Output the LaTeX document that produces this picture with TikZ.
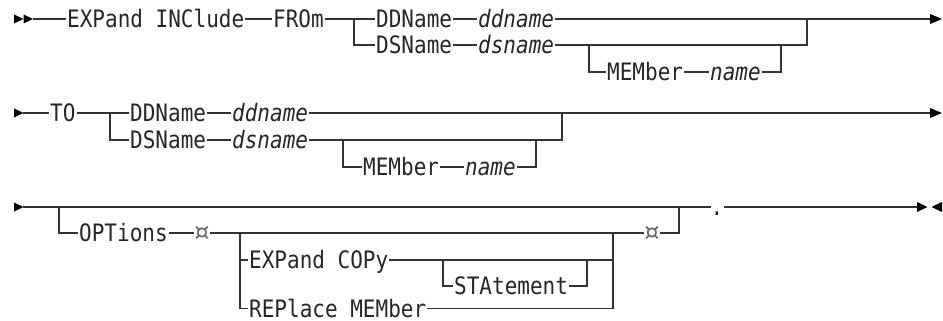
\documentclass[tikz,border=0pt]{standalone}
\usepackage{fontspec}
\setmainfont{DejaVu Sans Mono}
\newfontfamily\railfont[FakeStretch=0.875]{DejaVu Sans Mono}
\newfontfamily\symfont{DejaVu Sans}
\newcommand{\kwfont}{\railfont\fontsize{24}{28}\selectfont}
\newcommand{\curfont}{\symfont\fontsize{24}{28}\selectfont}
\begin{document}
\begin{tikzpicture}[x=1pt,y=-1pt,
  rail/.style={draw=black!80, line width=1.3pt},
  kw/.style={anchor=west, inner xsep=1pt, inner ysep=0pt, text height=17.5pt,
             text depth=0pt, text=black!85, font=\kwfont},
  var/.style={kw, font=\kwfont\itshape},
  cur/.style={inner xsep=0pt, inner ysep=0pt, text=black!60, font=\curfont},
  tipfill/.style={fill=black}]
\useasboundingbox (0,0) rectangle (943,321);

% ---------- first line: EXPand INClude FROm ----------
\coordinate (s1) at (33,19);
\node[kw]  (expinc) at (66,19)  {EXPand INClude};
\node[kw]  (from)   at (272,19) {FROm};
\coordinate (b1)  at (354,19);
\coordinate (b1d) at (354,45);
\node[kw]  (dd1)  at (375,19) {DDName};
\node[var] (dd1v) at (477,19) {ddname};
\node[kw]  (ds1)  at (375,45) {DSName};
\node[var] (ds1v) at (477,45) {dsname};
\coordinate (m1)  at (589,45);
\coordinate (m1d) at (589,72);
\node[kw]  (mem1)  at (606,72) {MEMber};
\node[var] (name1) at (709,72) {name};
\coordinate (k1)  at (781,72);
\coordinate (k1u) at (781,45);
\coordinate (j1)  at (807,19);
\coordinate (j1d) at (807,45);
\coordinate (e1)  at (930,19);

\fill[tipfill] (14,14.5) -- (23.5,19) -- (14,23.5) -- cycle;
\fill[tipfill] (23.5,14.5) -- (33,19) -- (23.5,23.5) -- cycle;
\draw[rail] (s1) -- (expinc.west);
\draw[rail] (expinc.east) -- (from.west);
\draw[rail] (from.east) -- (b1) -- (dd1.west);
\draw[rail] (b1) -- (b1d) -- (ds1.west);
\draw[rail] (dd1.east) -- (dd1v.west);
\draw[rail] (ds1.east) -- (ds1v.west);
\draw[rail] (dd1v.east) -- (e1);
\draw[rail] (ds1v.east) -- (j1d) -- (j1);
\draw[rail] (m1) -- (m1d) -- (mem1.west);
\draw[rail] (mem1.east) -- (name1.west);
\draw[rail] (name1.east) -- (k1) -- (k1u);
\fill[tipfill] (930,14) -- (942,19) -- (930,24) -- cycle;

% ---------- second line: TO ----------
\coordinate (s2) at (23,113);
\node[kw]  (to)   at (49,113) {TO};
\coordinate (b2)  at (110,113);
\coordinate (b2d) at (110,140);
\node[kw]  (dd2)  at (129,113) {DDName};
\node[var] (dd2v) at (231,113) {ddname};
\node[kw]  (ds2)  at (129,140) {DSName};
\node[var] (ds2v) at (231,140) {dsname};
\coordinate (m2)  at (343,140);
\coordinate (m2d) at (343,167);
\node[kw]  (mem2)  at (362,167) {MEMber};
\node[var] (name2) at (464,167) {name};
\coordinate (k2)  at (536,167);
\coordinate (k2u) at (536,140);
\coordinate (j2)  at (562,113);
\coordinate (j2d) at (562,140);
\coordinate (e2)  at (930,113);

\fill[tipfill] (14,108.5) -- (23.5,113) -- (14,117.5) -- cycle;
\draw[rail] (s2) -- (to.west);
\draw[rail] (to.east) -- (b2) -- (dd2.west);
\draw[rail] (b2) -- (b2d) -- (ds2.west);
\draw[rail] (dd2.east) -- (dd2v.west);
\draw[rail] (ds2.east) -- (ds2v.west);
\draw[rail] (dd2v.east) -- (e2);
\draw[rail] (ds2v.east) -- (j2d) -- (j2);
\draw[rail] (m2) -- (m2d) -- (mem2.west);
\draw[rail] (mem2.east) -- (name2.west);
\draw[rail] (name2.east) -- (k2) -- (k2u);
\fill[tipfill] (930,108) -- (942,113) -- (930,118) -- cycle;

% ---------- third line: OPTions ----------
\coordinate (s3)  at (23,207);
\coordinate (b3)  at (59,207);
\coordinate (b3d) at (59,233);
\node[kw]  (opt)  at (78,233) {OPTions};
\node[cur] (cur1) at (202,233) {¤};
\coordinate (b4)  at (240,233);
\coordinate (b4a) at (240,260);
\coordinate (b4b) at (240,308.5);
\node[kw]  (expc) at (248,260) {EXPand COPy};
\coordinate (b5)  at (443,260);
\coordinate (b5d) at (443,286);
\node[kw]  (stat) at (453,286) {STAtement};
\coordinate (k5)  at (587,286);
\coordinate (k5u) at (587,260);
\node[kw]  (repl) at (248,308.5) {REPlace MEMber};
\coordinate (j4)  at (613,233);
\coordinate (j4a) at (613,260);
\coordinate (j4b) at (613,308.5);
\node[cur] (cur2) at (652,233) {¤};
\coordinate (j3)  at (679,233);
\coordinate (j3u) at (679,207);
\node[kw, inner xsep=0pt] (dot) at (710.5,207) {.};
\coordinate (e3)  at (917,207);

\fill[tipfill] (14,202.5) -- (23.5,207) -- (14,211.5) -- cycle;
\draw[rail] (s3) -- (dot.west);
\draw[rail] (b3) -- (b3d) -- (opt.west);
\draw[rail] (opt.east) -- (cur1.west);
\draw[rail] (cur1.east) -- (cur2.west);
\draw[rail] (b4) -- (b4b) -- (repl.west);
\draw[rail] (b4a) -- (expc.west);
\draw[rail] (expc.east) -- (j4a);
\draw[rail] (b5) -- (b5d) -- (stat.west);
\draw[rail] (stat.east) -- (k5) -- (k5u);
\draw[rail] (repl.east) -- (j4b) -- (j4);
\draw[rail] (cur2.east) -- (j3) -- (j3u);
\draw[rail] (dot.east) -- (e3);
\fill[tipfill] (917,202) -- (927.5,207) -- (917,212) -- cycle;
\fill[tipfill] (942,202) -- (931.5,207) -- (942,212) -- cycle;
\end{tikzpicture}
\end{document}
